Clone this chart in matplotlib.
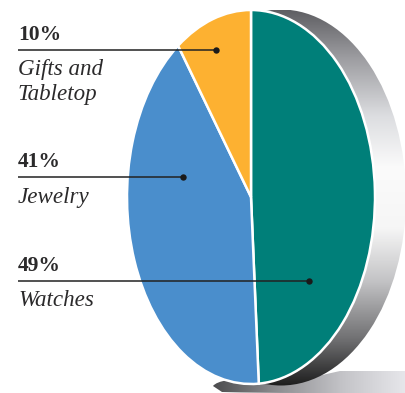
import numpy as np
import matplotlib
matplotlib.use("Agg")
import matplotlib.pyplot as plt
from matplotlib.colors import LinearSegmentedColormap
from matplotlib.patches import Ellipse, PathPatch
from matplotlib.path import Path

# share of sales by category, clockwise from 12 o'clock
categories = ["Watches", "Jewelry", "Gifts and\nTabletop"]
shares = [49, 41, 10]
colors = ["#007f79", "#4a8ecc", "#fdb131"]

W, H = 406, 393
fig = plt.figure(figsize=(W / 100, H / 100), dpi=100, facecolor="white")

# background layer works in pixels, y going down
bg = fig.add_axes([0, 0, 1, 1])
bg.set_xlim(0, W)
bg.set_ylim(H, 0)
bg.axis("off")

# floor shadow
floor_cmap = LinearSegmentedColormap.from_list(
    "floor", ["#4c4c4e", "#8f8f92", "#c4c4c8", "#e8e8ec"])
floor_img = bg.imshow(np.linspace(0, 1, 256).reshape(1, -1), cmap=floor_cmap,
                      extent=[213, W + 2, 393, 371], aspect="auto", zorder=1)
floor_verts = [(213, 386), (216, 382), (228, 380), (300, 380), (340, 371),
               (W + 2, 371), (W + 2, 393), (300, 393), (260, 393), (222, 392),
               (213, 386), (213, 386)]
floor_codes = [Path.MOVETO, Path.CURVE3, Path.CURVE3, Path.LINETO, Path.LINETO,
               Path.LINETO, Path.LINETO, Path.LINETO, Path.CURVE3, Path.CURVE3,
               Path.CURVE3, Path.CLOSEPOLY]
floor_clip = PathPatch(Path(floor_verts, floor_codes), fc="none", ec="none",
                       transform=bg.transData)
bg.add_patch(floor_clip)
floor_img.set_clip_path(floor_clip)

# side of the disc, a second ellipse pushed to the right
side_cmap = LinearSegmentedColormap.from_list(
    "side", [(0, "#5f5f63"), (0.12, "#9a9a9e"), (0.28, "#dcdde0"),
             (0.42, "#fbfbfb"), (0.58, "#f6f6f6"), (0.72, "#c4c4c6"),
             (0.88, "#6e6e70"), (1, "#1e1e1e")])
side_img = bg.imshow(np.linspace(0, 1, 256).reshape(-1, 1), cmap=side_cmap,
                     extent=[150, W, 386, 10], aspect="auto", zorder=2)
side_clip = Ellipse((281, 197.5), 250, 376, fc="none", ec="none",
                    transform=bg.transData)
bg.add_patch(side_clip)
side_img.set_clip_path(side_clip)
bg.set_xlim(0, W)
bg.set_ylim(H, 0)

# the pie, stretched into an ellipse by its own axes box
pie_ax = fig.add_axes([127 / W, 1 - 384 / H, 248 / W, 374 / H])
pie_ax.pie(shares, colors=colors, startangle=90, counterclock=False, radius=1,
           wedgeprops={"edgecolor": "white", "linewidth": 1.8, "clip_on": False})
pie_ax.set_aspect("auto")
pie_ax.set_xlim(-1, 1)
pie_ax.set_ylim(-1, 1)

# labels and leader lines on top
top = fig.add_axes([0, 0, 1, 1])
top.set_xlim(0, W)
top.set_ylim(H, 0)
top.axis("off")
top.patch.set_alpha(0)

ink = "#2b2a2b"
line_y = [281, 177, 50]
line_end = [309, 183, 216]
pct_y = [271, 167, 40]
name_y = [306, 203, 75]

for i in range(len(categories)):
    top.plot([18, line_end[i]], [line_y[i], line_y[i]], color="#222222", lw=1.1,
             solid_capstyle="butt")
    top.plot(line_end[i], line_y[i], "o", color="#1a1a1a", ms=4.6, mew=0)
    top.text(18, pct_y[i], f"{shares[i]}%", family="Liberation Serif",
             weight="bold", fontsize=15.5, color=ink, va="baseline")
    for j, part in enumerate(categories[i].split("\n")):
        top.text(18, name_y[i] + j * 25, part, family="Liberation Serif",
                 style="italic", fontsize=16.6, color=ink, va="baseline")

fig.savefig("out.png", dpi=100, facecolor="white")
